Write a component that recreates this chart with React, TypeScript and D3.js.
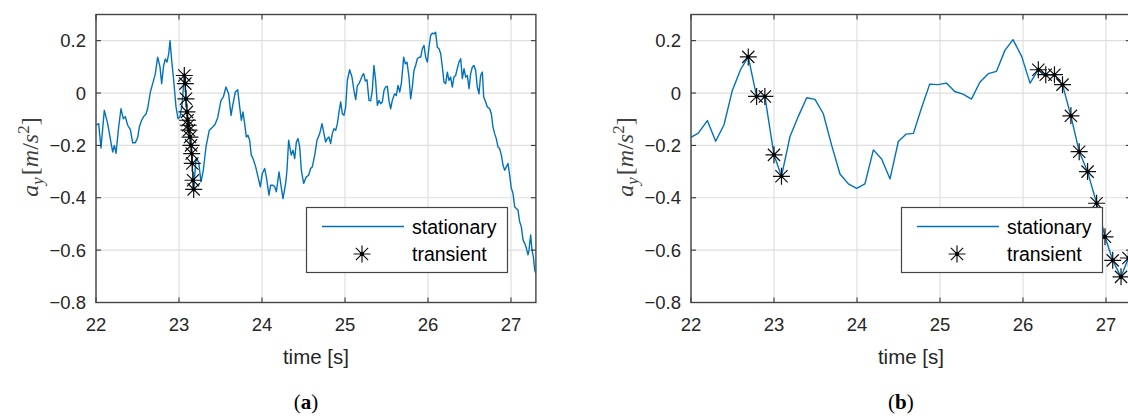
import React from "react";
import * as d3 from "d3";

// ---------- data ----------
const xTicks = [22, 23, 24, 25, 26, 27];
const yTicks = [-0.8, -0.6, -0.4, -0.2, 0, 0.2];
const xDomain: [number, number] = [22, 27.3];
const yDomain: [number, number] = [-0.8, 0.3];
const legendLabels = ["stationary", "transient"];
const captions = ["a", "b"];

// panel (a): stationary signal
const timeA = [
  22.0, 22.032, 22.06, 22.1, 22.141, 22.181, 22.201, 22.221, 22.241, 22.273, 22.301, 22.329, 22.353, 22.382,
  22.414, 22.442, 22.474, 22.502, 22.522, 22.55, 22.574, 22.602, 22.622, 22.655, 22.683, 22.715, 22.743, 22.771,
  22.791, 22.815, 22.835, 22.855, 22.876, 22.892, 22.912, 22.936, 22.964, 22.988, 23.012, 23.036,
  23.064, 23.076, 23.084, 23.096, 23.104, 23.112, 23.12, 23.133, 23.145, 23.153, 23.16, 23.169, 23.177,
  23.205, 23.237, 23.265, 23.293, 23.325, 23.365, 23.406, 23.434, 23.466, 23.506, 23.534, 23.566, 23.598,
  23.627, 23.647, 23.679, 23.707, 23.731, 23.751, 23.771, 23.791, 23.811, 23.831, 23.851, 23.871, 23.892,
  23.924, 23.952, 23.98, 24.004, 24.032, 24.052, 24.084, 24.104, 24.133, 24.153, 24.173, 24.205, 24.225,
  24.253, 24.285, 24.301, 24.321, 24.341, 24.353, 24.373, 24.394, 24.414, 24.434, 24.454, 24.474, 24.502,
  24.534, 24.562, 24.586, 24.606, 24.635, 24.663, 24.695, 24.723, 24.743, 24.767, 24.787, 24.807, 24.827,
  24.847, 24.867, 24.888, 24.908, 24.928, 24.948, 24.968, 24.988, 25.008, 25.028, 25.056, 25.084, 25.108,
  25.129, 25.149, 25.169, 25.189, 25.209, 25.225, 25.245, 25.265, 25.289, 25.309, 25.329, 25.349, 25.369,
  25.39, 25.41, 25.43, 25.45, 25.47, 25.49, 25.51, 25.53, 25.55, 25.57, 25.598, 25.618, 25.639, 25.659,
  25.679, 25.707, 25.727, 25.747, 25.771, 25.791, 25.811, 25.831, 25.851, 25.871, 25.892, 25.912, 25.932,
  25.952, 25.972, 25.992, 26.012, 26.032, 26.052, 26.072, 26.092, 26.112, 26.133, 26.153, 26.173, 26.193,
  26.213, 26.233, 26.253, 26.273, 26.293, 26.313, 26.333, 26.353, 26.373, 26.394, 26.414, 26.434, 26.454,
  26.474, 26.494, 26.514, 26.534, 26.554, 26.574, 26.594, 26.614, 26.634, 26.655, 26.671, 26.695, 26.715,
  26.743, 26.763, 26.783, 26.803, 26.823, 26.843, 26.863, 26.884, 26.904, 26.924, 26.944, 26.964, 26.984,
  27.004, 27.024, 27.044, 27.064, 27.084, 27.104, 27.124, 27.145, 27.165, 27.185, 27.205, 27.217, 27.237,
  27.253, 27.269, 27.285, 27.3,
];
const accelA = [
  -0.123, -0.117, -0.21, -0.066, -0.117, -0.19, -0.225, -0.2, -0.23, -0.13, -0.06, -0.098, -0.09, -0.123,
  -0.14, -0.19, -0.19, -0.17, -0.13, -0.104, -0.09, -0.08, -0.06, 0.004, 0.036, 0.074, 0.137, 0.1,
  0.036, 0.105, 0.13, 0.118, 0.15, 0.2, 0.124, 0.048, -0.053, -0.098, -0.09, -0.047,
  0.067, 0.036, -0.022, -0.072, -0.104, -0.123, -0.142, -0.168, -0.2, -0.231, -0.269, -0.333, -0.368,
  -0.25, -0.263, -0.339, -0.295, -0.206, -0.142, -0.13, -0.12, -0.094, -0.028, -0.015, 0.023, -0.003,
  -0.085, -0.047, 0.004, 0.013, -0.053, -0.104, -0.072, -0.117, -0.168, -0.161, -0.18, -0.237, -0.25,
  -0.282, -0.32, -0.358, -0.307, -0.288, -0.32, -0.39, -0.352, -0.352, -0.358, -0.377, -0.301, -0.345,
  -0.403, -0.345, -0.295, -0.18, -0.218, -0.237, -0.218, -0.25, -0.187, -0.174, -0.206, -0.295, -0.345,
  -0.32, -0.314, -0.288, -0.282, -0.237, -0.18, -0.155, -0.117, -0.149, -0.187, -0.174, -0.168, -0.193,
  -0.155, -0.136, -0.142, -0.117, -0.072, -0.034, -0.079, -0.085, -0.053, 0.048, 0.089, 0.061, 0.01,
  -0.025, 0.029, 0.036, 0.051, 0.067, 0.074, 0.046, 0.051, -0.028, -0.03, 0.01, 0.105, 0.048,
  -0.047, -0.028, -0.041, -0.034, 0.01, 0.023, 0.026, -0.03, -0.06, -0.028, -0.003, -0.009, 0.029, 0.004,
  0.036, 0.137, 0.112, 0.118, 0.061, -0.022, 0.023, 0.086, 0.105, 0.131, 0.137, 0.137, 0.169,
  0.182, 0.137, 0.118, 0.175, 0.22, 0.229, 0.226, 0.232, 0.175, 0.169, 0.15, 0.099, 0.042,
  0.036, 0.08, 0.048, 0.061, 0.023, 0.061, 0.067, 0.093, 0.118, 0.131, 0.055, 0.093, 0.061,
  0.067, 0.017, 0.074, 0.099, 0.105, 0.086, 0.023, -0.003, 0.067, 0.08, -0.015, -0.034, -0.053,
  -0.06, -0.079, -0.13, -0.155, -0.174, -0.206, -0.212, -0.237, -0.276, -0.295, -0.282, -0.269, -0.314,
  -0.364, -0.383, -0.434, -0.441, -0.447, -0.491, -0.51, -0.561, -0.574, -0.592, -0.618, -0.6, -0.542,
  -0.6, -0.625, -0.675, -0.688,
];
// panel (a): transient samples
const transientTimeA = [23.064, 23.076, 23.084, 23.096, 23.104, 23.112, 23.12, 23.133, 23.145, 23.153, 23.16, 23.169, 23.177];
const transientAccelA = [0.067, 0.036, -0.022, -0.072, -0.104, -0.123, -0.142, -0.168, -0.2, -0.231, -0.269, -0.333, -0.368];

// panel (b): stationary signal
const timeB = [
  22.0, 22.088, 22.197, 22.297, 22.398, 22.498, 22.598, 22.69, 22.79, 22.89, 23.0, 23.09, 23.193, 23.293,
  23.394, 23.494, 23.594, 23.695, 23.795, 23.896, 23.996, 24.096, 24.197, 24.297, 24.398, 24.498, 24.59,
  24.68, 24.776, 24.876, 24.976, 25.077, 25.177, 25.278, 25.379, 25.48, 25.581, 25.681, 25.782, 25.879,
  25.984, 26.085, 26.185, 26.274, 26.379, 26.476, 26.577, 26.677, 26.778, 26.887, 26.988, 27.081, 27.181, 27.27,
];
const accelB = [
  -0.169, -0.153, -0.105, -0.184, -0.121, 0.01, 0.09, 0.138, -0.013, -0.013, -0.236, -0.318, -0.166, -0.089,
  -0.018, -0.024, -0.079, -0.2, -0.309, -0.347, -0.364, -0.347, -0.217, -0.252, -0.328, -0.185, -0.157,
  -0.154, -0.058, 0.034, 0.032, 0.038, 0.006, -0.004, -0.023, 0.041, 0.074, 0.083, 0.163, 0.204,
  0.14, 0.038, 0.089, 0.07, 0.07, 0.032, -0.087, -0.224, -0.3, -0.421, -0.549, -0.639, -0.702, -0.63,
];
// panel (b): transient samples
const transientTimeB = [22.69, 22.79, 22.89, 23.0, 23.09, 26.185, 26.274, 26.379, 26.476, 26.577, 26.677, 26.778, 26.887, 26.988, 27.081, 27.181, 27.27];
const transientAccelB = [0.138, -0.013, -0.013, -0.236, -0.318, 0.089, 0.07, 0.07, 0.032, -0.087, -0.224, -0.3, -0.421, -0.549, -0.639, -0.702, -0.63];

// ---------- styling ----------
const W = 1128;
const H = 419;
const SANS = "'Liberation Sans', Arial, Helvetica, sans-serif";
const SERIF = "'Liberation Serif', 'Times New Roman', serif";
const BLUE = "#0072BD";
const AXIS = "#262626";
const GRID = "#dfdfdf";

function starPath(cx: number, cy: number, r: number) {
  const d = r * 0.72;
  return (
    `M${cx - r},${cy}L${cx + r},${cy}` +
    `M${cx},${cy - r}L${cx},${cy + r}` +
    `M${cx - d},${cy - d}L${cx + d},${cy + d}` +
    `M${cx - d},${cy + d}L${cx + d},${cy - d}`
  );
}

function Star({ x, y }: { x: number; y: number }) {
  return (
    <g>
      <path d={starPath(x, y, 8.5)} stroke="#111" strokeWidth={1.2} fill="none" />
      <circle cx={x} cy={y} r={2} fill="#000" />
    </g>
  );
}

interface PanelProps {
  id: string;
  x0: number;
  t: number[];
  a: number[];
  tt: number[];
  ta: number[];
  caption: string;
}

function Panel({ id, x0, t, a, tt, ta, caption }: PanelProps) {
  const y0 = 14.5;
  const y1 = 302.5;
  const pw = 83 * (xDomain[1] - xDomain[0]);
  const x = d3.scaleLinear().domain(xDomain).range([x0, x0 + pw]);
  const y = d3.scaleLinear().domain(yDomain).range([y1, y0]);
  const pts: [number, number][] = t.map((v, i) => [v, a[i]]);
  const line = d3
    .line<[number, number]>()
    .x((d) => x(d[0]))
    .y((d) => y(d[1]));
  const x1 = x0 + pw;
  const tick = 5;
  const lx = x0 + 210.5;
  const ly = 207.5;
  const cx = (x0 + x1) / 2;
  return (
    <g>
      <defs>
        <clipPath id={`clip-${id}`}>
          <rect x={x0} y={y0} width={pw} height={y1 - y0} />
        </clipPath>
      </defs>
      <rect x={x0} y={y0} width={pw} height={y1 - y0} fill="#fff" />
      {/* grid */}
      {xTicks.map((v) => (
        <line key={`gx${v}`} x1={x(v)} x2={x(v)} y1={y0} y2={y1} stroke={GRID} strokeWidth={1.2} />
      ))}
      {yTicks.map((v) => (
        <line key={`gy${v}`} x1={x0} x2={x1} y1={y(v)} y2={y(v)} stroke={GRID} strokeWidth={1.2} />
      ))}
      {/* data */}
      <g clipPath={`url(#clip-${id})`}>
        <path d={line(pts) || ""} fill="none" stroke={BLUE} strokeWidth={1.4} strokeLinejoin="round" />
      </g>
      {tt.map((v, i) => (
        <Star key={`s${i}`} x={x(v)} y={y(ta[i])} />
      ))}
      {/* ticks */}
      {xTicks.map((v) => (
        <g key={`tx${v}`}>
          <line x1={x(v)} x2={x(v)} y1={y1} y2={y1 - tick} stroke={AXIS} strokeWidth={1} />
          <line x1={x(v)} x2={x(v)} y1={y0} y2={y0 + tick} stroke={AXIS} strokeWidth={1} />
          <text x={x(v)} y={331} textAnchor="middle" fontFamily={SANS} fontSize={18.5} fill={AXIS}>
            {d3.format("d")(v)}
          </text>
        </g>
      ))}
      {yTicks.map((v) => (
        <g key={`ty${v}`}>
          <line x1={x0} x2={x0 + tick} y1={y(v)} y2={y(v)} stroke={AXIS} strokeWidth={1} />
          <line x1={x1} x2={x1 - tick} y1={y(v)} y2={y(v)} stroke={AXIS} strokeWidth={1} />
          <text x={x0 - 10} y={y(v)} dy="0.35em" textAnchor="end" fontFamily={SANS} fontSize={18.5} fill={AXIS}>
            {v === 0 ? "0" : d3.format(".1f")(v)}
          </text>
        </g>
      ))}
      <rect x={x0} y={y0} width={pw} height={y1 - y0} fill="none" stroke="#444" strokeWidth={1.4} />
      {/* legend */}
      <rect x={lx} y={ly} width={201} height={65} fill="#fff" stroke="#444" strokeWidth={1.2} />
      <line x1={x0 + 226} x2={x0 + 308} y1={226.5} y2={226.5} stroke={BLUE} strokeWidth={1.4} />
      <Star x={x0 + 266} y={254} />
      <text x={x0 + 316} y={227} dy="0.35em" fontFamily={SANS} fontSize={19.5} fill="#000">
        {legendLabels[0]}
      </text>
      <text x={x0 + 316} y={254} dy="0.35em" fontFamily={SANS} fontSize={19.5} fill="#000">
        {legendLabels[1]}
      </text>
      {/* axis labels */}
      <text x={cx} y={364} textAnchor="middle" fontFamily={SANS} fontSize={20.5} fill={AXIS}>
        time [s]
      </text>
      <text
        transform={`translate(${x0 - 58},${157}) rotate(-90)`}
        textAnchor="middle"
        fontFamily={SERIF}
        fontSize={24}
        fill="#404040"
      >
        <tspan fontStyle="italic">a</tspan>
        <tspan fontStyle="italic" fontSize={17} dy={5}>y</tspan>
        <tspan dy={-5} dx={2}>[</tspan>
        <tspan fontStyle="italic">m</tspan>
        <tspan>/</tspan>
        <tspan fontStyle="italic">s</tspan>
        <tspan fontSize={17} dy={-9}>2</tspan>
        <tspan dy={9}>]</tspan>
      </text>
      {/* caption */}
      <text x={cx - 10} y={409} textAnchor="middle" fontFamily={SERIF} fontSize={21} fill="#000">
        (<tspan fontWeight="bold">{caption}</tspan>)
      </text>
    </g>
  );
}

export default function App() {
  return (
    <svg
      width={W}
      height={H}
      viewBox={`0 0 ${W} ${H}`}
      style={{ position: "absolute", left: 0, top: 0, background: "#fff" }}
    >
      <rect width={W} height={H} fill="#fff" />
      <Panel id="a" x0={96} t={timeA} a={accelA} tt={transientTimeA} ta={transientAccelA} caption={captions[0]} />
      <Panel id="b" x0={691} t={timeB} a={accelB} tt={transientTimeB} ta={transientAccelB} caption={captions[1]} />
    </svg>
  );
}
